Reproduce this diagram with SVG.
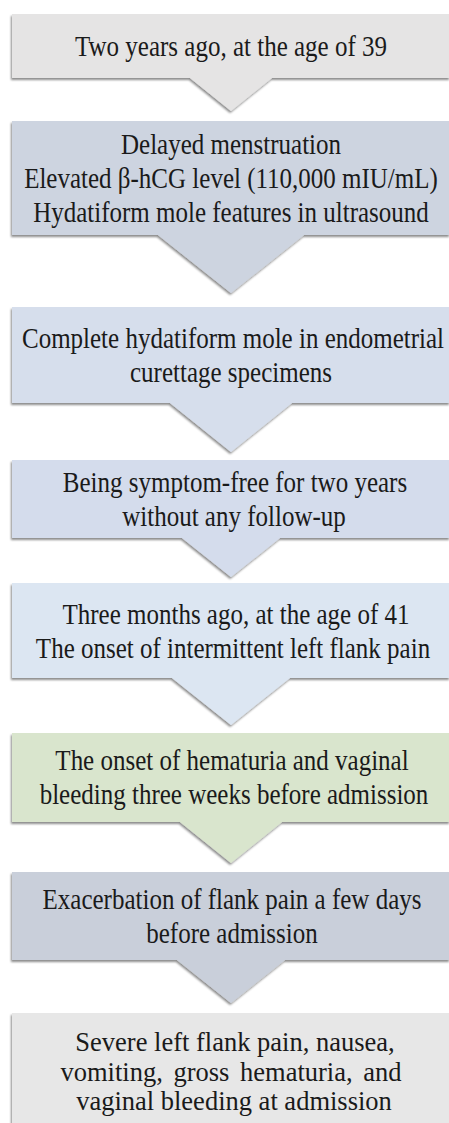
<svg xmlns="http://www.w3.org/2000/svg" width="449" height="1123" viewBox="0 0 449 1123">
<defs>
<filter id="sh" x="-10%" y="-10%" width="120%" height="130%">
<feDropShadow dx="-1" dy="2" stdDeviation="1.3" flood-color="#000" flood-opacity="0.45"/>
</filter>
<style>
.box{filter:url(#sh);}
.t{font-family:"Liberation Serif","Times New Roman",serif;font-size:25px;fill:#1a1a1a;text-anchor:middle;}
.big{font-size:26.5px;}
</style>
</defs>
<rect width="449" height="1123" fill="#ffffff"/>
<g id="connectors"></g>
<g id="n1">
<path class="box" d="M12,14 H450 V78 H272 L231,111 L190,78 H12 Z" fill="#e5e4e4"/>
<text class="t" transform="translate(231,56) scale(1,1.2)">Two years ago, at the age of 39</text>
</g>
<g id="n2">
<path class="box" d="M12,121 H450 V235 H304 L231,293 L158,235 H12 Z" fill="#cdd4e0"/>
<text class="t" transform="translate(231,154) scale(1,1.2)">Delayed menstruation</text>
<text class="t" transform="translate(231,188) scale(1,1.2)">Elevated β-hCG level (110,000 mIU/mL)</text>
<text class="t" transform="translate(231,222) scale(1,1.2)">Hydatiform mole features in ultrasound</text>
</g>
<g id="n3">
<path class="box" d="M12,307 H450 V403 H292 L231,452 L170,403 H12 Z" fill="#d6deec"/>
<text class="t" transform="translate(233,348) scale(1,1.2)">Complete hydatiform mole in endometrial</text>
<text class="t" transform="translate(231,382) scale(1,1.2)">curettage specimens</text>
</g>
<g id="n4">
<path class="box" d="M12,460 H450 V538 H280 L231,577 L182,538 H12 Z" fill="#d4dcec"/>
<text class="t" transform="translate(235,492) scale(1,1.2)">Being symptom-free for two years</text>
<text class="t" transform="translate(234,526) scale(1,1.2)">without any follow-up</text>
</g>
<g id="n5">
<path class="box" d="M12,583 H450 V678 H290 L231,725 L172,678 H12 Z" fill="#dce6f2"/>
<text class="t" transform="translate(236,624) scale(1,1.2)">Three months ago, at the age of 41</text>
<text class="t" transform="translate(233,658) scale(1,1.2)">The onset of intermittent left flank pain</text>
</g>
<g id="n6">
<path class="box" d="M12,733 H450 V822 H282 L231,863 L180,822 H12 Z" fill="#d9e5cd"/>
<text class="t" transform="translate(232,770) scale(1,1.2)">The onset of hematuria and vaginal</text>
<text class="t" transform="translate(234,804) scale(1,1.2)">bleeding three weeks before admission</text>
</g>
<g id="n7">
<path class="box" d="M12,872 H450 V960 H285 L231,1003 L177,960 H12 Z" fill="#c9cfda"/>
<text class="t" transform="translate(232,909) scale(1,1.2)">Exacerbation of flank pain a few days</text>
<text class="t" transform="translate(232,943) scale(1,1.2)">before admission</text>
</g>
<g id="n8">
<path class="box" d="M12,1013 H450 V1130 H12 Z" fill="#e7e7e7"/>
<text class="t big" x="235" y="1051">Severe left flank pain, nausea,</text>
<text class="t big" x="231" y="1080.5" word-spacing="4">vomiting, gross hematuria, and</text>
<text class="t big" x="234" y="1110">vaginal bleeding at admission</text>
</g>
</svg>
